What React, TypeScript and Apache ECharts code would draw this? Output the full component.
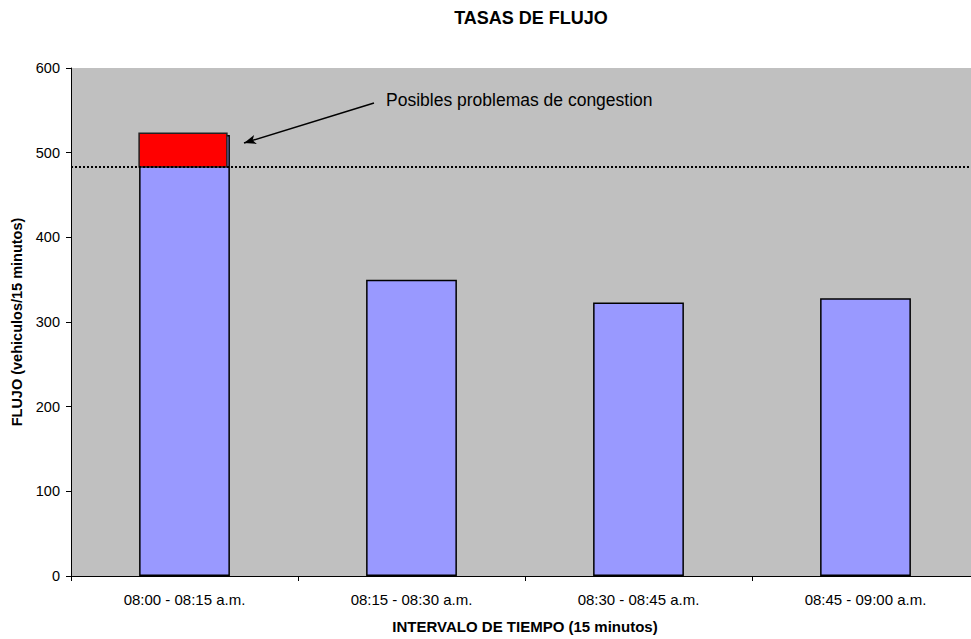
import React, { useEffect, useRef } from "react";
import * as echarts from "echarts";

const categories = [
  "08:00 - 08:15 a.m.",
  "08:15 - 08:30 a.m.",
  "08:30 - 08:45 a.m.",
  "08:45 - 09:00 a.m.",
];
const flowValues = [521, 350, 323, 328];
const capacityLimit = 483;
// excess segment: [category index, from, to]
const excessSegments = [[0, 483, 523]];
const yTicks = { min: 0, max: 600, interval: 100 };

const titleText = "TASAS DE FLUJO";
const xAxisName = "INTERVALO DE TIEMPO (15 minutos)";
const yAxisName = "FLUJO (vehiculos/15 minutos)";
const annotationText = "Posibles problemas de congestion";

export default function App() {
  const ref = useRef<HTMLDivElement>(null);
  useEffect(() => {
    if (!ref.current) return;
    const chart = echarts.init(ref.current, null, { renderer: "svg" });
    const font = "Arial, 'Liberation Sans', sans-serif";
    chart.setOption({
      animation: false,
      backgroundColor: "#ffffff",
      textStyle: { fontFamily: font },
      title: {
        text: titleText,
        left: 526,
        top: 4,
        textAlign: "center",
        textStyle: { fontSize: 18, fontWeight: "bold", color: "#000", fontFamily: font },
      },
      grid: {
        left: 71,
        top: 68,
        right: 1,
        bottom: 61,
        show: true,
        backgroundColor: "#c0c0c0",
        borderWidth: 0,
      },
      xAxis: {
        type: "category",
        data: categories,
        axisLine: { show: true, lineStyle: { color: "#000", width: 1 } },
        axisTick: { show: true, length: 5, alignWithLabel: false, lineStyle: { color: "#000" } },
        axisLabel: { fontSize: 15, color: "#000", margin: 16, fontFamily: font },
        name: xAxisName,
        nameLocation: "middle",
        nameGap: 43,
        nameTextStyle: { fontSize: 15, fontWeight: "bold", color: "#000", fontFamily: font },
      },
      yAxis: {
        type: "value",
        min: yTicks.min,
        max: yTicks.max,
        interval: yTicks.interval,
        splitLine: { show: false },
        axisLine: { show: true, lineStyle: { color: "#000", width: 1 } },
        axisTick: { show: true, length: 5, lineStyle: { color: "#000" } },
        axisLabel: { fontSize: 14.5, color: "#000", margin: 11, fontFamily: font },
        name: yAxisName,
        nameLocation: "middle",
        nameGap: 45,
        nameRotate: 90,
        nameTextStyle: { fontSize: 14.5, fontWeight: "bold", color: "#000", fontFamily: font },
      },
      series: [
        {
          type: "bar",
          data: flowValues,
          barWidth: "40%",
          itemStyle: { color: "#9999ff", borderColor: "#000", borderWidth: 1.5 },
          z: 2,
          markLine: {
            silent: true,
            symbol: ["none", "none"],
            label: { show: false },
            lineStyle: { color: "#000", type: [2, 2], width: 2 },
            data: [{ yAxis: capacityLimit }],
            z: 5,
          },
        },
        {
          type: "custom",
          data: excessSegments,
          z: 4,
          renderItem: (params: any, api: any) => {
            const top = api.coord([api.value(0), api.value(2)]);
            const bottom = api.coord([api.value(0), api.value(1)]);
            const band = api.size([1, 0])[0];
            const bw = band * 0.4;
            return {
              type: "rect",
              shape: {
                x: top[0] - bw / 2,
                y: top[1],
                width: bw - 3,
                height: bottom[1] - top[1],
              },
              style: { fill: "#ff0000", stroke: "#222", lineWidth: 1.5 },
            };
          },
        },
        {
          type: "line",
          data: [],
          markLine: {
            silent: true,
            symbol: ["none", "arrow"],
            symbolSize: [7, 12],
            label: { show: false },
            lineStyle: { color: "#000", type: "solid", width: 1.5 },
            data: [[{ x: 374, y: 103 }, { x: 244, y: 143 }]],
          },
        },
      ],
      graphic: [
        {
          type: "text",
          left: 386,
          top: 91,
          style: {
            text: annotationText,
            fontSize: 17.5,
            fill: "#000",
            fontFamily: font,
          },
        },
      ],
    });
    return () => chart.dispose();
  }, []);
  return (
    <div
      style={{
        position: "fixed",
        left: 0,
        top: 0,
        width: 971,
        height: 639,
        overflow: "hidden",
      }}
    >
      <div ref={ref} style={{ width: 980, height: 639 }} />
    </div>
  );
}
